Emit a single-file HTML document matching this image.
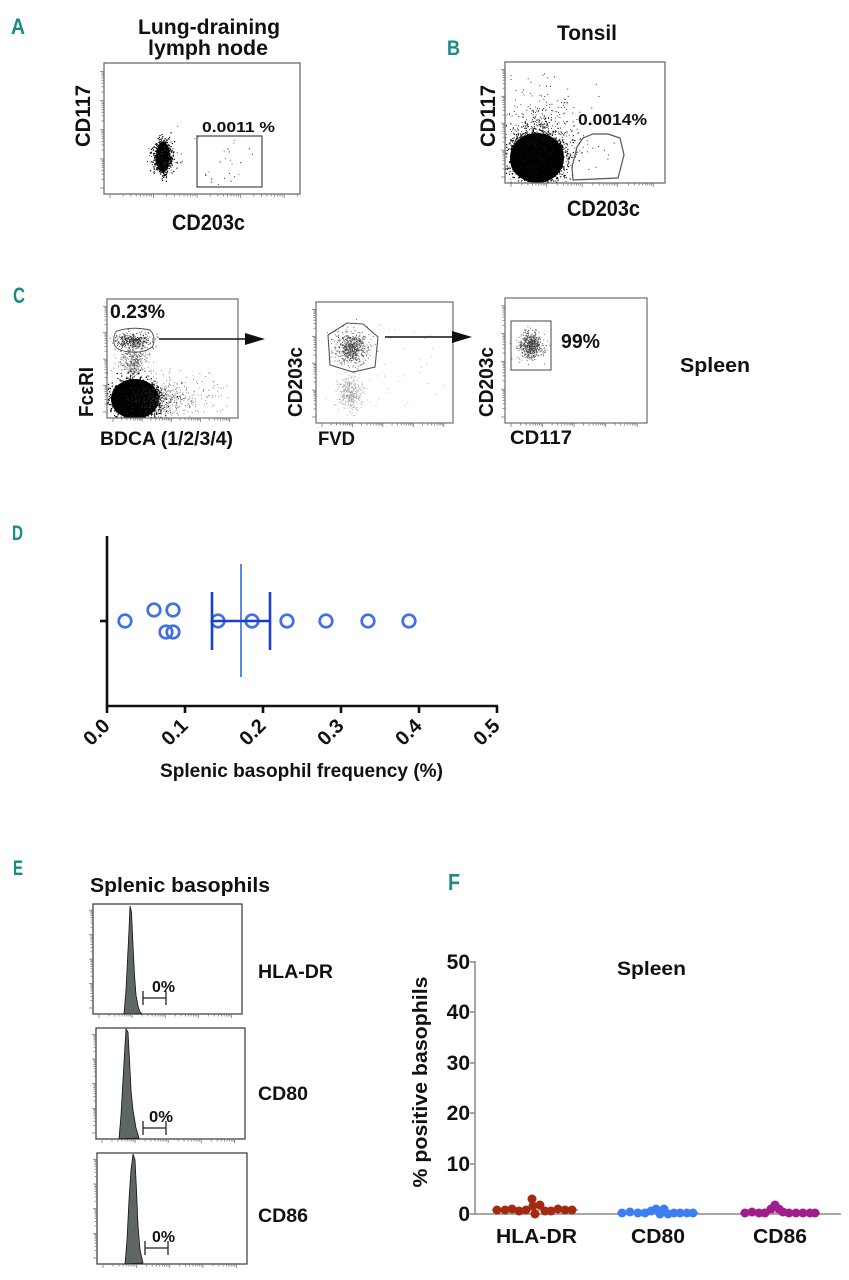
<!DOCTYPE html>
<html><head><meta charset="utf-8">
<style>
html,body{margin:0;padding:0;background:#fff;}
svg{display:block;}
text{font-family:"Liberation Sans",Arial,sans-serif;font-weight:bold;fill:#111;}
.pl{font-family:"Liberation Sans",Arial,sans-serif;fill:#1b8b88;font-weight:bold;}
</style></head>
<body>
<svg id="s" xmlns="http://www.w3.org/2000/svg" width="849" height="1280" viewBox="0 0 849 1280">
<defs>
<clipPath id="cA"><rect x="104" y="63" width="196" height="131"/></clipPath>
<clipPath id="cB"><rect x="505" y="62" width="160" height="121"/></clipPath>
<clipPath id="cC1"><rect x="107" y="299" width="131" height="119"/></clipPath>
<clipPath id="cC2"><rect x="316" y="302" width="137" height="121"/></clipPath>
<clipPath id="cC3"><rect x="505" y="298" width="142" height="125"/></clipPath>
</defs>

<!-- Panel letters -->
<text class="pl" x="11" y="34" font-size="22" textLength="14" lengthAdjust="spacingAndGlyphs">A</text>
<text class="pl" x="447" y="55" font-size="21" textLength="13" lengthAdjust="spacingAndGlyphs">B</text>
<text class="pl" x="13" y="303" font-size="22" textLength="12" lengthAdjust="spacingAndGlyphs">C</text>
<text class="pl" x="12" y="540" font-size="21" textLength="11" lengthAdjust="spacingAndGlyphs">D</text>
<text class="pl" x="13" y="875" font-size="21" textLength="10" lengthAdjust="spacingAndGlyphs">E</text>
<text class="pl" x="448" y="890" font-size="23" textLength="12" lengthAdjust="spacingAndGlyphs">F</text>

<!-- ============ Panel A ============ -->
<text x="138" y="34" font-size="21" textLength="142" lengthAdjust="spacingAndGlyphs">Lung-draining</text>
<text x="148" y="55" font-size="21" textLength="120" lengthAdjust="spacingAndGlyphs">lymph node</text>
<g id="gA" clip-path="url(#cA)">
  <ellipse cx="163" cy="157" rx="7" ry="15" fill="#000"/>
</g>
<rect x="104" y="63" width="196" height="131" fill="none" stroke="#6d6d6d" stroke-width="1.3"/>
<rect x="197" y="136" width="65" height="51" fill="none" stroke="#555" stroke-width="1.3"/>
<text x="202" y="132" font-size="15" textLength="73" lengthAdjust="spacingAndGlyphs">0.0011 %</text>
<text transform="translate(90,116) rotate(-90)" text-anchor="middle" font-size="21" textLength="62" lengthAdjust="spacingAndGlyphs">CD117</text>
<text x="172" y="230" font-size="22" textLength="73" lengthAdjust="spacingAndGlyphs">CD203c</text>

<!-- ============ Panel B ============ -->
<text x="557" y="40" font-size="21" textLength="60" lengthAdjust="spacingAndGlyphs">Tonsil</text>
<g id="gB" clip-path="url(#cB)">
  <ellipse cx="537" cy="158" rx="27" ry="25" fill="#000"/>
</g>
<rect x="505" y="62" width="160" height="121" fill="none" stroke="#6d6d6d" stroke-width="1.3"/>
<polygon points="583,138 593,134 608,134 620,138 624,155 618,178 573,180 572,167 577,147" fill="none" stroke="#555" stroke-width="1.2"/>
<text x="578" y="125" font-size="16" textLength="69" lengthAdjust="spacingAndGlyphs">0.0014%</text>
<text transform="translate(495,116) rotate(-90)" text-anchor="middle" font-size="21" textLength="62" lengthAdjust="spacingAndGlyphs">CD117</text>
<text x="567" y="216" font-size="22" textLength="73" lengthAdjust="spacingAndGlyphs">CD203c</text>

<!-- ============ Panel C ============ -->
<g id="gC1" clip-path="url(#cC1)">
  <ellipse cx="135" cy="399" rx="24" ry="20" fill="#000"/>
</g>
<rect x="107" y="299" width="131" height="119" fill="none" stroke="#6d6d6d" stroke-width="1.2"/>
<path d="M117,331 Q133,326 150,330 Q156,336 153,346 Q146,353 131,352 Q115,351 114,343 Q113,334 117,331 Z" fill="none" stroke="#555" stroke-width="1"/>
<text x="110" y="318" font-size="19" textLength="55" lengthAdjust="spacingAndGlyphs">0.23%</text>
<text transform="translate(93,392) rotate(-90)" text-anchor="middle" font-size="20" textLength="50" lengthAdjust="spacingAndGlyphs">FcεRI</text>
<text x="100" y="445" font-size="19" textLength="133" lengthAdjust="spacingAndGlyphs">BDCA (1/2/3/4)</text>
<line x1="159" y1="339" x2="247" y2="339" stroke="#111" stroke-width="1.4"/>
<polygon points="245,333 265,339 245,345" fill="#111"/>

<g id="gC2" clip-path="url(#cC2)"></g>
<rect x="316" y="302" width="137" height="121" fill="none" stroke="#6d6d6d" stroke-width="1.2"/>
<polygon points="328,335 347,323 363,324 378,337 375,367 353,372 330,365" fill="none" stroke="#555" stroke-width="1.1"/>
<text transform="translate(302,382) rotate(-90)" text-anchor="middle" font-size="20" textLength="70" lengthAdjust="spacingAndGlyphs">CD203c</text>
<text x="318" y="445" font-size="19" textLength="37" lengthAdjust="spacingAndGlyphs">FVD</text>
<line x1="385" y1="337" x2="454" y2="337" stroke="#111" stroke-width="1.4"/>
<polygon points="452,331 472,337 452,343" fill="#111"/>

<g id="gC3" clip-path="url(#cC3)"></g>
<rect x="505" y="298" width="142" height="125" fill="none" stroke="#6d6d6d" stroke-width="1.2"/>
<rect x="511" y="321" width="40" height="49" fill="none" stroke="#555" stroke-width="1.1"/>
<text x="561" y="348" font-size="20" textLength="39" lengthAdjust="spacingAndGlyphs">99%</text>
<text transform="translate(493,382) rotate(-90)" text-anchor="middle" font-size="20" textLength="70" lengthAdjust="spacingAndGlyphs">CD203c</text>
<text x="510" y="444" font-size="19" textLength="62" lengthAdjust="spacingAndGlyphs">CD117</text>
<text x="680" y="372" font-size="20" textLength="70" lengthAdjust="spacingAndGlyphs">Spleen</text>

<!-- ============ Panel D ============ -->
<g stroke="#111" stroke-width="2.6" fill="none">
  <line x1="107" y1="536" x2="107" y2="707"/>
  <line x1="106" y1="706" x2="498" y2="706"/>
  <line x1="100" y1="621" x2="107" y2="621"/>
  <line x1="107" y1="706" x2="107" y2="713"/>
  <line x1="185" y1="706" x2="185" y2="713"/>
  <line x1="263" y1="706" x2="263" y2="713"/>
  <line x1="341" y1="706" x2="341" y2="713"/>
  <line x1="419" y1="706" x2="419" y2="713"/>
  <line x1="497" y1="706" x2="497" y2="713"/>
</g>
<g font-size="20">
  <text transform="translate(111,727) rotate(-45)" text-anchor="end">0.0</text>
  <text transform="translate(189,727) rotate(-45)" text-anchor="end">0.1</text>
  <text transform="translate(267,727) rotate(-45)" text-anchor="end">0.2</text>
  <text transform="translate(345,727) rotate(-45)" text-anchor="end">0.3</text>
  <text transform="translate(423,727) rotate(-45)" text-anchor="end">0.4</text>
  <text transform="translate(501,727) rotate(-45)" text-anchor="end">0.5</text>
</g>
<line x1="241" y1="564" x2="241" y2="677" stroke="#4a7ce8" stroke-width="1.8"/>
<g fill="none" stroke="#3f70e6" stroke-width="2.7">
  <circle cx="125" cy="621" r="6.3"/>
  <circle cx="154" cy="610" r="6.3"/>
  <circle cx="173" cy="610" r="6.3"/>
  <circle cx="166" cy="632" r="6.3"/>
  <circle cx="173" cy="632" r="6.3"/>
  <circle cx="218" cy="621" r="6.3"/>
  <circle cx="252" cy="621" r="6.3"/>
  <circle cx="287" cy="621" r="6.3"/>
  <circle cx="326" cy="621" r="6.3"/>
  <circle cx="368" cy="621" r="6.3"/>
  <circle cx="409" cy="621" r="6.3"/>
</g>
<g stroke="#1c3fc6" stroke-width="2.6">
  <line x1="212" y1="621" x2="270" y2="621"/>
  <line x1="212" y1="592" x2="212" y2="650"/>
  <line x1="270" y1="592" x2="270" y2="650"/>
</g>
<text x="160" y="777" font-size="19" textLength="283" lengthAdjust="spacingAndGlyphs">Splenic basophil frequency (%)</text>

<!-- ============ Panel E ============ -->
<text x="90" y="892" font-size="20" textLength="180" lengthAdjust="spacingAndGlyphs">Splenic basophils</text>
<g id="gE"></g>
<rect x="93" y="904" width="149" height="110" fill="none" stroke="#444" stroke-width="1.3"/>
<path d="M124,1014 L126,990 L127.5,960 L129,930 L130,906 L131.5,912 L133,945 L134.5,975 L136,995 L138,1006 L140,1012 L142,1014 Z" fill="#5f6666" stroke="#111" stroke-width="0.8"/>
<rect x="96" y="1028" width="149" height="111" fill="none" stroke="#444" stroke-width="1.3"/>
<path d="M119,1139 L121,1115 L123,1080 L125,1045 L126,1029 L128,1032 L129.5,1060 L131,1090 L133,1110 L136,1128 L139,1138 Z" fill="#5f6666" stroke="#111" stroke-width="0.8"/>
<rect x="97" y="1153" width="150" height="111" fill="none" stroke="#444" stroke-width="1.3"/>
<path d="M125,1264 L127,1240 L129,1200 L131,1170 L133,1154 L135,1160 L136.5,1190 L138,1225 L140,1250 L143,1263 Z" fill="#5f6666" stroke="#111" stroke-width="0.8"/>
<g stroke="#222" stroke-width="1.3">
  <line x1="143" y1="998" x2="166" y2="998"/><line x1="143" y1="991" x2="143" y2="1005"/><line x1="166" y1="991" x2="166" y2="1005"/>
  <line x1="143" y1="1128" x2="166" y2="1128"/><line x1="143" y1="1121" x2="143" y2="1135"/><line x1="166" y1="1121" x2="166" y2="1135"/>
  <line x1="145" y1="1248" x2="168" y2="1248"/><line x1="145" y1="1241" x2="145" y2="1255"/><line x1="168" y1="1241" x2="168" y2="1255"/>
</g>
<g font-size="16">
  <text x="152" y="992" textLength="23" lengthAdjust="spacingAndGlyphs">0%</text>
  <text x="149" y="1122" textLength="24" lengthAdjust="spacingAndGlyphs">0%</text>
  <text x="152" y="1242" textLength="23" lengthAdjust="spacingAndGlyphs">0%</text>
</g>
<g font-size="19">
  <text x="258" y="978" textLength="75" lengthAdjust="spacingAndGlyphs">HLA-DR</text>
  <text x="258" y="1100" textLength="50" lengthAdjust="spacingAndGlyphs">CD80</text>
  <text x="258" y="1222" textLength="50" lengthAdjust="spacingAndGlyphs">CD86</text>
</g>

<!-- ============ Panel F ============ -->
<g stroke="#8a8a8a" stroke-width="1.5">
  <line x1="475" y1="961" x2="475" y2="1214"/>
  <line x1="475" y1="1214" x2="841" y2="1214"/>
  <line x1="470" y1="962" x2="475" y2="962"/>
  <line x1="470" y1="1012" x2="475" y2="1012"/>
  <line x1="470" y1="1063" x2="475" y2="1063"/>
  <line x1="470" y1="1113" x2="475" y2="1113"/>
  <line x1="470" y1="1164" x2="475" y2="1164"/>
  <line x1="470" y1="1214" x2="475" y2="1214"/>
</g>
<g font-size="21" text-anchor="end">
  <text x="470" y="969">50</text>
  <text x="470" y="1019">40</text>
  <text x="470" y="1070">30</text>
  <text x="470" y="1120">20</text>
  <text x="470" y="1171">10</text>
  <text x="470" y="1221">0</text>
</g>
<text transform="translate(427,1082) rotate(-90)" text-anchor="middle" font-size="20" textLength="211" lengthAdjust="spacingAndGlyphs">% positive basophils</text>
<text x="617" y="975" font-size="19" textLength="69" lengthAdjust="spacingAndGlyphs">Spleen</text>
<g font-size="20">
  <text x="496" y="1243" textLength="81" lengthAdjust="spacingAndGlyphs">HLA-DR</text>
  <text x="631" y="1243" textLength="54" lengthAdjust="spacingAndGlyphs">CD80</text>
  <text x="753" y="1243" textLength="54" lengthAdjust="spacingAndGlyphs">CD86</text>
</g>
<line x1="492" y1="1210" x2="578" y2="1210" stroke="#e08060" stroke-width="1.5"/>
<line x1="617" y1="1213" x2="699" y2="1213" stroke="#90b0f0" stroke-width="1.5"/>
<line x1="740" y1="1213" x2="820" y2="1213" stroke="#d080c0" stroke-width="1.5"/>
<g fill="#a3290f">
  <circle cx="497" cy="1210" r="4.5"/><circle cx="505" cy="1210" r="4.5"/><circle cx="512" cy="1209" r="4.5"/>
  <circle cx="519" cy="1211" r="4.5"/><circle cx="526" cy="1210" r="4.5"/><circle cx="532" cy="1199" r="4.5"/>
  <circle cx="533" cy="1206" r="4.5"/><circle cx="535" cy="1214" r="4.5"/><circle cx="540" cy="1205" r="4.5"/>
  <circle cx="545" cy="1211" r="4.5"/><circle cx="551" cy="1211" r="4.5"/><circle cx="558" cy="1209" r="4.5"/>
  <circle cx="565" cy="1210" r="4.5"/><circle cx="572" cy="1210" r="4.5"/>
</g>
<g fill="#3d7ef2">
  <circle cx="622" cy="1213" r="4.5"/><circle cx="630" cy="1212" r="4.5"/><circle cx="638" cy="1213" r="4.5"/>
  <circle cx="645" cy="1213" r="4.5"/><circle cx="651" cy="1211" r="4.5"/><circle cx="656" cy="1209" r="4.5"/>
  <circle cx="660" cy="1214" r="4.5"/><circle cx="664" cy="1209" r="4.5"/><circle cx="668" cy="1214" r="4.5"/>
  <circle cx="674" cy="1213" r="4.5"/><circle cx="680" cy="1213" r="4.5"/><circle cx="687" cy="1213" r="4.5"/>
  <circle cx="693" cy="1213" r="4.5"/>
</g>
<g fill="#a11d8e">
  <circle cx="745" cy="1213" r="4.5"/><circle cx="752" cy="1212" r="4.5"/><circle cx="759" cy="1213" r="4.5"/>
  <circle cx="765" cy="1213" r="4.5"/><circle cx="771" cy="1209" r="4.5"/><circle cx="775" cy="1205" r="4.5"/>
  <circle cx="779" cy="1209" r="4.5"/><circle cx="783" cy="1212" r="4.5"/><circle cx="789" cy="1213" r="4.5"/>
  <circle cx="796" cy="1213" r="4.5"/><circle cx="803" cy="1213" r="4.5"/><circle cx="810" cy="1213" r="4.5"/>
  <circle cx="815" cy="1213" r="4.5"/>
</g>
<g id="ticks" stroke="#777" stroke-width="0.8"></g>
</svg>
<script>
(function(){
var NS="http://www.w3.org/2000/svg";
var seed=12345;
function rnd(){seed|=0;seed=seed+0x6D2B79F5|0;var t=Math.imul(seed^seed>>>15,1|seed);t=t+Math.imul(t^t>>>7,61|t)^t;return((t^t>>>14)>>>0)/4294967296;}
function gs(){var u=rnd()||1e-9,v=rnd();return Math.sqrt(-2*Math.log(u))*Math.cos(2*Math.PI*v);}
function dot(g,x,y,r,c,o){var e=document.createElementNS(NS,"rect");e.setAttribute("x",(x-r).toFixed(1));e.setAttribute("y",(y-r).toFixed(1));e.setAttribute("width",(2*r).toFixed(1));e.setAttribute("height",(2*r).toFixed(1));e.setAttribute("fill",c);if(o)e.setAttribute("fill-opacity",o);g.appendChild(e);}
function cloud(id,cx,cy,sx,sy,n,r,c,o){var g=document.getElementById(id);for(var i=0;i<n;i++){dot(g,cx+gs()*sx,cy+gs()*sy,r,c,o);}}
function unif(id,x0,y0,x1,y1,n,r,c,o){var g=document.getElementById(id);for(var i=0;i<n;i++){dot(g,x0+rnd()*(x1-x0),y0+rnd()*(y1-y0),r,c,o);}}
// A
cloud("gA",163,157,4,8,900,0.6,"#000");
cloud("gA",165,158,9,9,60,0.5,"#333");
unif("gA",203,142,258,182,14,0.6,"#555");
unif("gA",170,120,240,185,18,0.5,"#666");
// B
cloud("gB",537,158,13,12,2500,0.6,"#000");
cloud("gB",540,140,17,20,600,0.45,"#111");
unif("gB",510,70,600,140,40,0.5,"#333");
unif("gB",578,140,618,176,8,0.5,"#333");
// C1
cloud("gC1",133,341,9,4,350,0.5,"#222",0.8);
cloud("gC1",134,362,7,8,400,0.45,"#444",0.7);
cloud("gC1",135,399,12,9,1800,0.6,"#000");
cloud("gC1",160,400,18,9,500,0.45,"#333",0.7);
unif("gC1",150,370,230,415,90,0.45,"#777");
// C2
cloud("gC2",352,348,8,8,600,0.5,"#333",0.7);
cloud("gC2",350,393,6,9,350,0.5,"#888",0.6);
unif("gC2",325,325,445,410,40,0.45,"#aaa");
// C3
cloud("gC3",531,346,6,7,550,0.5,"#333",0.7);
// ticks
var tk=document.getElementById("ticks");
function ln(x1,y1,x2,y2){var e=document.createElementNS(NS,"line");e.setAttribute("x1",x1);e.setAttribute("y1",y1);e.setAttribute("x2",x2);e.setAttribute("y2",y2);tk.appendChild(e);}
function bottomTicks(x0,x1,y){var d=(x1-x0)/4.5;for(var k=0;k<5;k++){var b=x0+6+k*d;for(var m=1;m<10;m++){var xx=b+Math.log(m)/Math.LN10*d;if(xx>x1-2)break;ln(xx,y,xx,y+(m==1?4:2.5));}}}
function leftTicks(x,y0,y1){var d=(y1-y0)/4.5;for(var k=0;k<5;k++){var b=y1-6-k*d;for(var m=1;m<10;m++){var yy=b-Math.log(m)/Math.LN10*d;if(yy<y0+2)break;ln(x,yy,x-(m==1?4:2.5),yy);}}}
bottomTicks(104,300,194);leftTicks(104,63,194);
bottomTicks(505,665,183);leftTicks(505,62,183);
bottomTicks(107,238,418);leftTicks(107,299,418);
bottomTicks(316,453,423);leftTicks(316,302,423);
bottomTicks(505,647,423);leftTicks(505,298,423);
bottomTicks(93,242,1014);leftTicks(93,904,1014);
bottomTicks(96,245,1139);leftTicks(96,1028,1139);
bottomTicks(97,247,1264);leftTicks(97,1153,1264);
})();
</script>
</body></html>
